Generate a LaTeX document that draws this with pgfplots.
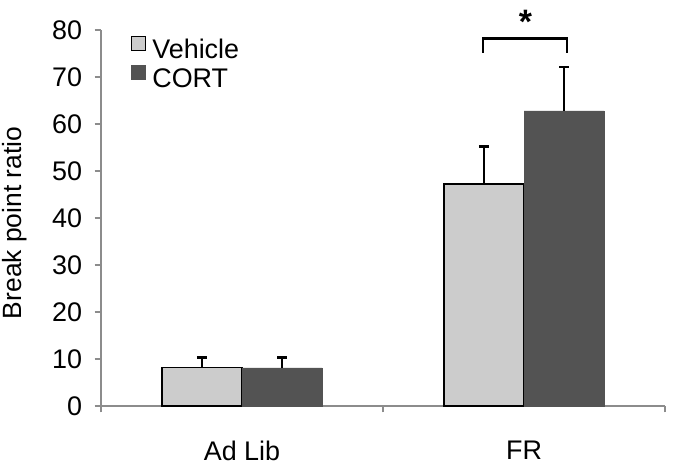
\documentclass[border=0pt]{standalone}
\usepackage{pgfplots}
\pgfplotsset{compat=1.18}
\usepackage{fontspec}
\setmainfont{Liberation Sans}
\definecolor{veh}{HTML}{CCCCCC}
\definecolor{cort}{HTML}{535353}
\definecolor{axgray}{HTML}{8C8C8C}
\begin{document}
\begin{tikzpicture}
\useasboundingbox (0,0) rectangle (676bp,465bp);
\begin{axis}[
  at={(101bp,59bp)}, anchor=south west,
  scale only axis,
  width=564bp, height=376bp,
  ymin=0, ymax=80, ytick={0,10,...,80},
  xmin=-0.5, xmax=1.5,
  xtick={-0.5,0.5,1.5},
  x tick label as interval,
  xticklabels={Ad Lib,FR},
  axis x line*=bottom, axis y line*=left,
  axis line style={axgray, line width=1.5pt, -},
  tick style={axgray, line width=1.5pt},
  tick align=outside,
  major tick length=6.5bp,
  ybar=0pt, bar width=0.284,
  clip=false,
  /pgf/number format/assume math mode=true,
  yticklabel style={font=\fontsize{27}{30}\selectfont, xshift=-9bp},
  xticklabel style={font=\fontsize{27}{30}\selectfont, yshift=-25bp},
  ylabel={Break point ratio},
  every axis y label/.style={at={(axis description cs:-0.153,0.487)}, rotate=90, anchor=center,
    font=\fontsize{26.5}{30}\selectfont},
  legend style={at={(0.053,0.985)}, anchor=north west, draw=none, fill=none,
    inner xsep=0pt, inner ysep=0pt,
    font=\fontsize{27}{31}\selectfont, row sep=3bp, column sep=2bp,
    nodes={inner xsep=4bp}},
  legend cell align=left,
  legend image code/.code={\draw[#1, line width=1.3pt] (0bp,-1bp) rectangle (14bp,13bp);},
  error bars/y dir=plus, error bars/y explicit,
  error bars/error bar style={black, line width=2.2pt},
  error bars/error mark options={black, rotate=90, mark size=5bp, line width=2.2pt},
]
\addplot[fill=veh, draw=black, line width=1.5pt] coordinates {(0,8.2) +- (0,2.1) (1,47.2) +- (0,8.0)};
\addplot[fill=cort, draw=cort, line width=0.5pt] coordinates {(0,8.1) +- (0,2.2) (1,62.8) +- (0,9.4)};
\legend{Vehicle,CORT}
\draw[black, line width=2.2pt] (axis cs:0.855,75.2) -- (axis cs:0.855,78.2) -- (axis cs:1.152,78.2) -- (axis cs:1.152,75.2);
\node[font=\fontsize{34}{38}\selectfont\bfseries] at (axis cs:1.005,81.8) {*};
\end{axis}
\end{tikzpicture}
\end{document}
